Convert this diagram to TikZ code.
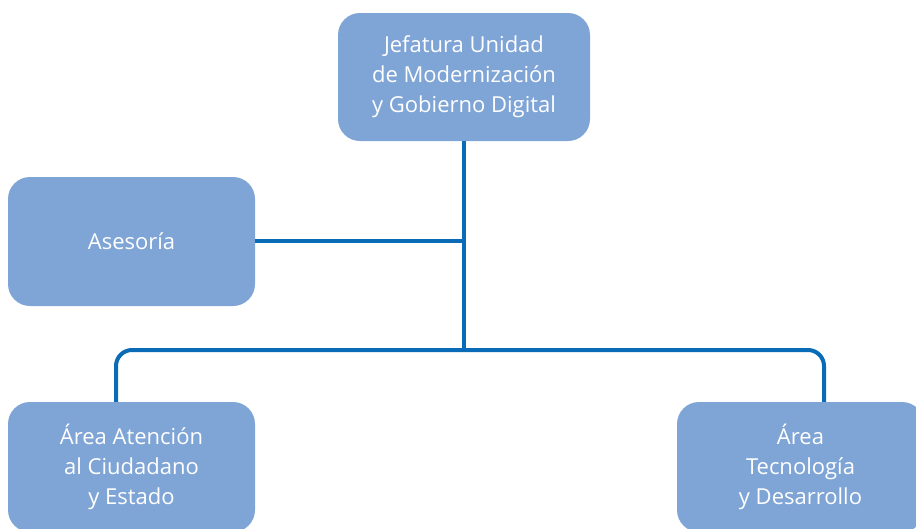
\documentclass[tikz,border=0pt]{standalone}
\usepackage{fontspec}
\setmainfont{Open Sans}
\definecolor{boxfill}{HTML}{7FA4D6}
\definecolor{linec}{HTML}{0A6BB7}
\begin{document}
\begin{tikzpicture}[x=1pt,y=-1pt,
  unit/.style={fill=boxfill, draw=none, rounded corners=22pt, text=white,
    align=center, font=\fontsize{22}{30}\selectfont, inner sep=0pt},
  conn/.style={draw=linec, line width=4pt}]
\useasboundingbox (0,0) rectangle (916,528);
\clip (0,0) rectangle (916,528);
\node[unit, minimum width=252pt, minimum height=128pt] (jef) at (464,77)
  {Jefatura Unidad\\de Modernización\\y Gobierno Digital};
\node[unit, minimum width=247pt, minimum height=129pt] (ase) at (131.5,241.5) {Asesoría};
\node[unit, minimum width=247pt, minimum height=130pt] (aac) at (131.5,467) {Área Atención\\al Ciudadano\\y Estado};
\node[unit, minimum width=247pt, minimum height=130pt] (atd) at (800.5,467) {Área\\Tecnología\\y Desarrollo};
\coordinate (bus) at (464,350);
\coordinate (mid) at (464,241);
\draw[conn] (jef.south) -- (bus);
\draw[conn] (ase.east |- mid) -- (mid);
\draw[conn, rounded corners=16pt] (aac.north -| 116,0) -- (116,350) -- (824,350) -- (atd.north -| 824,0);
\end{tikzpicture}
\end{document}
